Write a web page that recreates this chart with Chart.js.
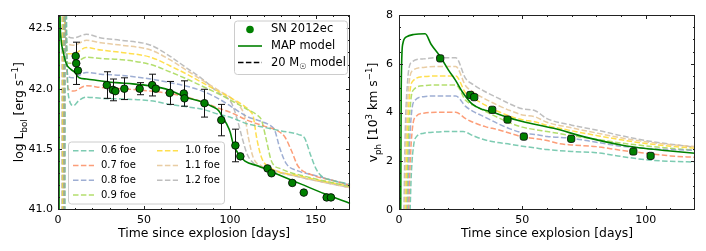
<!DOCTYPE html>
<html>
<head>
<meta charset="utf-8">
<script src="https://cdn.jsdelivr.net/npm/chart.js@4.4.1/dist/chart.umd.min.js"></script>
<style>
body { margin: 0; background: #fff; }
#wrap { position: relative; width: 706px; height: 251px; }
#lumChart { position: absolute; left: 0; top: 0; }
#velChart { position: absolute; left: 355px; top: 0; }
</style>
</head>
<body>
<div id="wrap">
  <canvas id="lumChart" width="355" height="251"></canvas>
  <canvas id="velChart" width="351" height="251"></canvas>
</div>
<script>
// SN 2012ec bolometric light curve
var lumDays = [10.3,10.6,11.6,28.4,31.9,33.4,38.6,47.5,54.8,56.9,65,73.2,73.6,85.2,95,103.2,106.1,121.9,124.2,136.3,143,156.3,158.8];
var lumValues = [42.27,42.21,42.15,42.03,41.99,41.98,42.0,42.0,42.03,42.0,41.965,41.96,41.92,41.88,41.74,41.53,41.44,41.34,41.30,41.22,41.14,41.10,41.10];
var lumErrors = [null,0.175,null,0.11,0.09,null,0.09,0.05,0.09,null,0.095,0.105,null,0.115,0.13,0.135,null,null,null,null,null,null,null];

// photospheric velocity (10^3 km/s)
var velDays = [16.7,28.9,30.5,37.8,44,50.6,69.8,95,102];
var velValues = [6.22,4.72,4.63,4.11,3.71,3.01,2.92,2.40,2.22];

// MAP model
var mapLumDays = [0.6,0.8,1.2,1.7,3.1,5,7.5,9.8,12.3,16.5,24.2,33.8,43.4,53,64.6,74.2,83.8,90,93.4,96,98,100.2,102,105,108.8,116.5,128,141.5,155,170];
var mapLumValues = [40.5,43.5,42.6,42.42,42.3,42.2,42.16,42.135,42.09,42.08,42.066,42.05,42.04,42.025,41.99,41.93,41.89,41.85,41.82,41.76,41.71,41.64,41.54,41.46,41.40,41.36,41.29,41.21,41.13,41.05];
var mapVelDays = [0.7,0.9,1.5,3,6,10.6,13,16.7,20,22.8,26,29.6,34,37.7,44,50,62.7,76,90,100,110,120];
var mapVelValues = [0,5,6.8,7.1,7.2,7.23,6.8,6.3,5.75,5.34,4.8,4.35,4.12,4.02,3.8,3.63,3.35,2.98,2.67,2.52,2.42,2.33];

// 20 Msun models, explosion energies
var energies = ["0.6 foe","0.7 foe","0.8 foe","0.9 foe","1.0 foe","1.1 foe","1.2 foe"];
var modelColors = ["rgba(102,194,165,0.85)","rgba(252,141,98,0.85)","rgba(141,160,203,0.85)","rgba(166,216,84,0.85)","rgba(255,217,47,0.85)","rgba(229,196,148,0.85)","rgba(179,179,179,0.85)"];

var lumModelDays = [
  [4.0,4.3,5.2,6,9,12,16.5,25,37,54,65,75,84,93,101,110,120,130,140,143.5,147,150,153,160,170],
  [3.7,4.0,4.9,6,9,16.5,25,37,54,65,75,84,93,101,110,120,128,132,135.7,139.6,147,160,170],
  [3.4,3.7,4.6,6,9,16.5,25,37,54,65,75,84,93,101,110,118,124,126,129,132.8,139.6,150,170],
  [3.1,3.4,4.3,6,9,16.5,25,37,54,65,75,84,93,101,110,116,118.4,121.3,124.2,130,145,170],
  [2.8,3.1,4.0,6,9,16.5,25,37,54,65,75,84,93,101,108,112,113.6,115.5,118.4,123,140,170],
  [2.5,2.8,3.7,6,9,16.5,25,37,54,65,75,84,93,101,106,108.8,110.7,113.6,118.4,125,140,170],
  [2.2,2.5,3.4,6,9,16.5,25,37,54,65,74,84,93,101,104,107,110,114,120,140,170]
];
var lumModelValues = [
  [40.0,43.5,42.3,41.95,41.86,41.9,41.93,41.92,41.915,41.9,41.87,41.85,41.83,41.79,41.76,41.71,41.68,41.65,41.62,41.59,41.45,41.34,41.28,41.24,41.21],
  [40.0,43.5,42.35,42.0,41.98,42.025,42.01,42.0,41.98,41.96,41.93,41.89,41.84,41.80,41.74,41.69,41.65,41.6,41.49,41.36,41.29,41.24,41.2],
  [40.0,43.5,42.45,42.1,42.09,42.135,42.12,42.11,42.08,42.05,42.02,41.98,41.92,41.85,41.77,41.73,41.69,41.66,41.51,41.38,41.32,41.28,41.2],
  [40.0,43.5,42.55,42.21,42.21,42.26,42.25,42.24,42.2,42.14,42.08,42.02,41.96,41.9,41.83,41.78,41.74,41.57,41.4,41.335,41.27,41.19],
  [40.0,43.5,42.6,42.29,42.29,42.34,42.32,42.3,42.26,42.19,42.12,42.05,41.98,41.92,41.86,41.81,41.77,41.6,41.43,41.35,41.28,41.19],
  [40.0,43.5,42.7,42.37,42.36,42.40,42.38,42.36,42.32,42.24,42.15,42.07,41.99,41.92,41.85,41.76,41.6,41.43,41.36,41.33,41.27,41.18],
  [40.0,43.5,42.75,42.43,42.42,42.45,42.42,42.4,42.36,42.27,42.18,42.08,41.97,41.88,41.76,41.6,41.46,41.38,41.34,41.27,41.18]
];

var velModelDays = [
  [4.5,5,6,7,10,15,20,26,30,35,40,45,50,55,60,70,80,90,100,110,120],
  [4.0,4.5,5.5,7,10,15,23,27,30,35,40,45,50,55,60,65,70,80,90,100,110,120],
  [3.6,4.1,5.1,6.5,10,15,23,27,30,35,40,45,50,55,60,70,80,90,100,110,120],
  [3.2,3.7,4.7,6.1,10,15,23,27,30,35,40,45,50,55,60,70,80,90,100,110,120],
  [2.8,3.3,4.3,5.7,10,15,23,27,30,35,40,45,50,55,60,70,80,90,100,110,120],
  [2.4,2.9,3.9,5.3,10,15,23,27,30,35,40,45,50,55,60,70,80,90,100,110,120],
  [2.0,2.5,3.5,4.9,10,15,23,27,30,35,40,45,50,55,60,70,80,90,100,110,120]
];
var velModelValues = [
  [0,1.5,2.7,3.0,3.15,3.2,3.22,3.22,3.05,2.87,2.77,2.7,2.62,2.55,2.48,2.4,2.35,2.2,2.06,2.0,1.97],
  [0,1.8,3.4,3.85,3.97,4.01,4.01,3.75,3.6,3.42,3.3,3.15,3.0,2.93,2.85,2.72,2.67,2.6,2.45,2.33,2.22,2.16],
  [0,2.2,4.0,4.5,4.65,4.68,4.68,4.25,4.05,3.8,3.55,3.33,3.17,3.1,3.02,2.94,2.78,2.62,2.53,2.48,2.45],
  [0,2.5,4.4,4.95,5.1,5.13,5.13,4.5,4.3,4.05,3.8,3.57,3.4,3.3,3.22,3.05,2.9,2.75,2.63,2.53,2.46],
  [0,2.7,4.7,5.3,5.47,5.5,5.5,4.8,4.6,4.3,4.05,3.85,3.7,3.62,3.47,3.25,3.06,2.88,2.73,2.62,2.53],
  [0,2.9,5.0,5.7,5.85,5.89,5.89,5.1,4.85,4.55,4.3,4.08,3.9,3.83,3.6,3.37,3.16,2.96,2.8,2.68,2.6],
  [0,3.1,5.3,6.05,6.2,6.25,6.25,5.4,5.15,4.85,4.6,4.35,4.15,4.08,3.75,3.48,3.28,3.05,2.85,2.7,2.58]
];

var FONT = "DejaVu Sans";
Chart.defaults.font.family = FONT;
Chart.defaults.color = "#000";

function toXY(xs, ys){
  return xs.map(function(x, i){ return {x: x, y: ys[i]}; });
}

// text with sub/superscripts, centred on (cx, cy)
function drawRich(ctx, parts, cx, cy, size, rotate, alignLeft){
  ctx.save();
  ctx.translate(cx, cy);
  if (rotate) ctx.rotate(-Math.PI / 2);
  var widths = [], total = 0;
  parts.forEach(function(p){
    ctx.font = ((p.sub || p.sup) ? size * 0.7 : size) + "px " + FONT;
    var w = ctx.measureText(p.t).width;
    widths.push(w);
    total += w;
  });
  var xx = alignLeft ? 0 : -total / 2;
  var base = size * 0.36;
  ctx.fillStyle = "#000";
  ctx.textAlign = "left";
  ctx.textBaseline = "alphabetic";
  parts.forEach(function(p, i){
    ctx.font = ((p.sub || p.sup) ? size * 0.7 : size) + "px " + FONT;
    var dy = p.sub ? size * 0.25 : (p.sup ? -size * 0.42 : 0);
    ctx.fillText(p.t, xx, base + dy);
    xx += widths[i];
  });
  ctx.restore();
}

function legendBox(ctx, x0, y0, x1, y1){
  ctx.save();
  ctx.fillStyle = "rgba(255,255,255,0.8)";
  ctx.strokeStyle = "#cccccc";
  ctx.lineWidth = 1;
  ctx.beginPath();
  ctx.roundRect(x0 + 0.5, y0 + 0.5, x1 - x0, y1 - y0, 3);
  ctx.fill();
  ctx.stroke();
  ctx.restore();
}

function legendLine(ctx, x0, x1, y, color, dash, width){
  ctx.save();
  ctx.strokeStyle = color;
  ctx.lineWidth = width;
  ctx.setLineDash(dash);
  ctx.beginPath();
  ctx.moveTo(x0, y);
  ctx.lineTo(x1, y);
  ctx.stroke();
  ctx.restore();
}

// box with inward ticks on all four sides, axis titles, optional legends
function makeDecorations(cfg){
  return {
    id: "decorations",
    afterDraw: function(chart){
      var ctx = chart.ctx, a = chart.chartArea;
      var xs = chart.scales.x, ys = chart.scales.y;
      var L = Math.round(a.left), R = Math.round(a.right) - 1;
      var T = Math.round(a.top), B = Math.round(a.bottom) - 1;
      ctx.save();
      ctx.setLineDash([]);
      ctx.globalAlpha = 1;
      ctx.fillStyle = "#222";
      ctx.fillRect(L, T, R - L + 1, 1);
      ctx.fillRect(L, B, R - L + 1, 1);
      ctx.fillRect(L, T, 1, B - T + 1);
      ctx.fillRect(R, T, 1, B - T + 1);
      var n = Math.round((cfg.xMax - cfg.xMin) / cfg.xMinor);
      for (var i = 0; i <= n; i++) {
        var v = cfg.xMin + i * cfg.xMinor;
        var major = Math.abs(v / cfg.xMajor - Math.round(v / cfg.xMajor)) < 1e-6;
        var len = major ? 4 : 2;
        var px = Math.round(xs.getPixelForValue(v));
        if (px > R) px = R;
        ctx.fillRect(px, B - len + 1, 1, len);
        ctx.fillRect(px, T, 1, len);
      }
      n = Math.round((cfg.yMax - cfg.yMin) / cfg.yMinor);
      for (var j = 0; j <= n; j++) {
        var w = cfg.yMin + j * cfg.yMinor;
        var maj = Math.abs(w / cfg.yMajor - Math.round(w / cfg.yMajor)) < 1e-6;
        var l2 = maj ? 4 : 2;
        var py = Math.round(ys.getPixelForValue(w));
        if (py > B) py = B;
        ctx.fillRect(L, py, l2, 1);
        ctx.fillRect(R - l2 + 1, py, l2, 1);
      }
      ctx.restore();

      drawRich(ctx, [{t: "Time since explosion [days]"}], (a.left + a.right) / 2, 233, 12.4, false);
      drawRich(ctx, cfg.yTitle, cfg.yTitleX, (a.top + a.bottom) / 2, 12.4, true);
      if (cfg.drawLegends) cfg.drawLegends(ctx);
    }
  };
}

var errorBars = {
  id: "errorBars",
  beforeDatasetDraw: function(chart, args){
    if (args.index !== 0) return;
    var ctx = chart.ctx, xs = chart.scales.x, ys = chart.scales.y;
    ctx.save();
    ctx.strokeStyle = "#111";
    ctx.lineWidth = 1;
    ctx.beginPath();
    lumErrors.forEach(function(e, i){
      if (e === null) return;
      var px = Math.round(xs.getPixelForValue(lumDays[i])) + 0.5;
      var top = ys.getPixelForValue(lumValues[i] + e);
      var bot = ys.getPixelForValue(lumValues[i] - e);
      ctx.moveTo(px, top); ctx.lineTo(px, bot);
      ctx.moveTo(px - 3.5, top); ctx.lineTo(px + 3.5, top);
      ctx.moveTo(px - 3.5, bot); ctx.lineTo(px + 3.5, bot);
    });
    ctx.stroke();
    ctx.restore();
  }
};

function modelSets(daysList, valuesList){
  return energies.map(function(name, k){
    return {
      label: name,
      data: toXY(daysList[k], valuesList[k]),
      showLine: true,
      borderColor: modelColors[k],
      borderWidth: 1.5,
      borderDash: [5.5, 2.4],
      pointRadius: 0,
      cubicInterpolationMode: "monotone"
    };
  });
}

function onStep(step){
  return function(scale){
    scale.ticks = scale.ticks.filter(function(t){
      return Math.abs(t.value / step - Math.round(t.value / step)) < 1e-6;
    });
  };
}

function drawLumLegends(ctx){
  // upper legend
  legendBox(ctx, 234, 20.5, 347, 74);
  ctx.save();
  ctx.fillStyle = "#008000";
  ctx.strokeStyle = "#000";
  ctx.lineWidth = 0.8;
  ctx.beginPath();
  ctx.arc(250, 29.5, 3.8, 0, Math.PI * 2);
  ctx.fill();
  ctx.restore();
  legendLine(ctx, 238, 262, 46, "#008000", [], 1.6);
  legendLine(ctx, 238, 262, 62.5, "#000", [5.5, 2.4], 1.5);
  ctx.save();
  ctx.fillStyle = "#000";
  ctx.textBaseline = "middle";
  ctx.font = "11.5px " + FONT;
  ctx.fillText("SN 2012ec", 271, 29.5);
  ctx.fillText("MAP model", 271, 46);
  ctx.restore();
  drawRich(ctx, [{t: "20 M"}, {t: "\u2609", sub: true}, {t: " model"}], 271, 62, 11.5, false, true);

  // lower legend, two columns
  legendBox(ctx, 68, 141.5, 224, 203.5);
  ctx.save();
  ctx.font = "10px " + FONT;
  ctx.fillStyle = "#000";
  ctx.textBaseline = "middle";
  energies.forEach(function(name, k){
    var col = k < 4 ? 0 : 1;
    var row = k < 4 ? k : k - 4;
    var x0 = col === 0 ? 73 : 157;
    var yy = 150.7 + row * 14.8;
    legendLine(ctx, x0, x0 + 21, yy, modelColors[k], [5.5, 2.4], 1.5);
    ctx.fillText(name, x0 + 28, yy);
  });
  ctx.restore();
}

function makeLumChart(){
  var datasets = [{
    label: "SN 2012ec",
    data: toXY(lumDays, lumValues),
    backgroundColor: "#008000",
    borderColor: "#000",
    borderWidth: 0.8,
    pointRadius: 3.8
  }, {
    label: "MAP model",
    data: toXY(mapLumDays, mapLumValues),
    showLine: true,
    borderColor: "#008000",
    borderWidth: 1.6,
    pointRadius: 0,
    cubicInterpolationMode: "monotone"
  }].concat(modelSets(lumModelDays, lumModelValues));

  new Chart(document.getElementById("lumChart"), {
    type: "scatter",
    data: {datasets: datasets},
    options: {
      responsive: false,
      animation: false,
      layout: {padding: {top: 15, right: 1, left: 0, bottom: 0}},
      scales: {
        x: {
          min: 0, max: 170,
          grid: {display: false, drawTicks: false},
          border: {display: false},
          afterFit: function(s){ s.height = 41.5; },
          afterBuildTicks: onStep(50),
          ticks: {stepSize: 50, padding: 4, font: {size: 11}, color: "#000"}
        },
        y: {
          min: 41.0, max: 42.61,
          grid: {display: false, drawTicks: false},
          border: {display: false},
          afterFit: function(s){ s.width = 58; },
          afterBuildTicks: onStep(0.5),
          ticks: {stepSize: 0.5, padding: 5, font: {size: 11}, color: "#000",
                  callback: function(v){ return Number(v).toFixed(1); }}
        }
      },
      plugins: {legend: {display: false}, tooltip: {enabled: false}}
    },
    plugins: [errorBars, makeDecorations({
      xMin: 0, xMax: 170, xMajor: 50, xMinor: 10,
      yMin: 41.0, yMax: 42.6, yMajor: 0.5, yMinor: 0.1,
      yTitleX: 19,
      yTitle: [{t: "log L"}, {t: "bol", sub: true}, {t: " [erg s"}, {t: "\u22121", sup: true}, {t: "]"}],
      drawLegends: drawLumLegends
    })]
  });
}

function makeVelChart(){
  var datasets = [{
    label: "SN 2012ec",
    data: toXY(velDays, velValues),
    backgroundColor: "#008000",
    borderColor: "#000",
    borderWidth: 0.8,
    pointStyle: "rectRounded",
    pointRadius: 4.2
  }, {
    label: "MAP model",
    data: toXY(mapVelDays, mapVelValues),
    showLine: true,
    borderColor: "#008000",
    borderWidth: 1.6,
    pointRadius: 0,
    cubicInterpolationMode: "monotone"
  }].concat(modelSets(velModelDays, velModelValues));

  new Chart(document.getElementById("velChart"), {
    type: "scatter",
    data: {datasets: datasets},
    options: {
      responsive: false,
      animation: false,
      layout: {padding: {top: 15, right: 11, left: 0, bottom: 0}},
      scales: {
        x: {
          min: 0, max: 120,
          grid: {display: false, drawTicks: false},
          border: {display: false},
          afterFit: function(s){ s.height = 41; },
          afterBuildTicks: onStep(50),
          ticks: {stepSize: 50, padding: 4, font: {size: 11}, color: "#000"}
        },
        y: {
          min: 0, max: 8,
          grid: {display: false, drawTicks: false},
          border: {display: false},
          afterFit: function(s){ s.width = 44; },
          ticks: {stepSize: 2, padding: 6, font: {size: 11}, color: "#000"}
        }
      },
      plugins: {legend: {display: false}, tooltip: {enabled: false}}
    },
    plugins: [makeDecorations({
      xMin: 0, xMax: 120, xMajor: 50, xMinor: 10,
      yMin: 0, yMax: 8, yMajor: 2, yMinor: 0.5,
      yTitleX: 18,
      yTitle: [{t: "v"}, {t: "ph", sub: true}, {t: " [10"}, {t: "3", sup: true}, {t: " km s"}, {t: "\u22121", sup: true}, {t: "]"}]
    })]
  });
}

document.addEventListener("DOMContentLoaded", function(){
  makeLumChart();
  makeVelChart();
});
</script>
</body>
</html>
